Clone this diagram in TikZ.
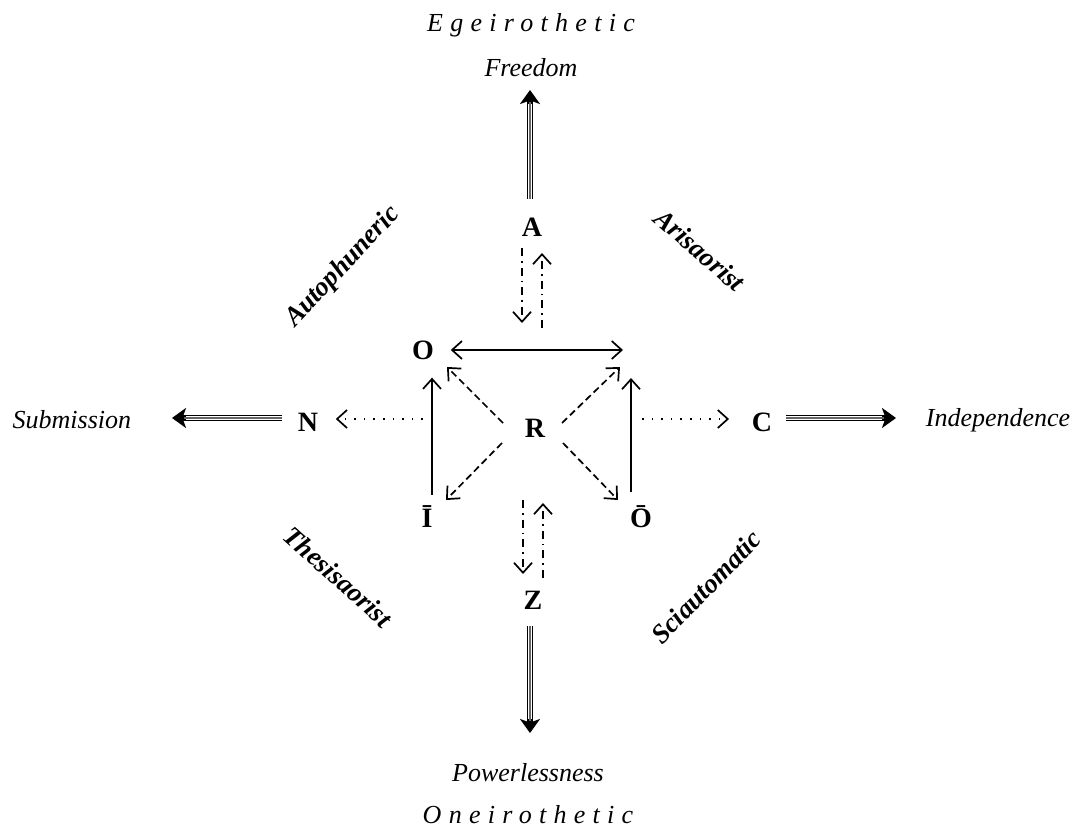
\documentclass[tikz,border=0pt]{standalone}
\usepackage{fontspec}
\setmainfont{Liberation Serif}
\usepackage{tikz}
\usetikzlibrary{arrows.meta,positioning}

\begin{document}
\begin{tikzpicture}[
        x=0.5pt, y=-0.5pt,
        >={Straight Barb[length=5pt,width=9pt]},
        every path/.style={line width=0.85pt},
        letter/.style={font=\fontsize{14}{16}\selectfont\bfseries, inner sep=0pt},
        word/.style={font=\fontsize{13}{15}\selectfont\itshape, inner sep=0pt},
        spaced/.style={font=\fontsize{13}{15}\selectfont\itshape\addfontfeature{LetterSpace=28}, inner sep=0pt},
        corner/.style={font=\fontsize{13.5}{15}\selectfont\bfseries\itshape, inner sep=0pt},
        dsh/.style={->, dash pattern=on 3.5pt off 2pt},
        dot/.style={->, dash pattern=on 0.8pt off 4pt},
        dashdot/.style={->, dash pattern=on 4pt off 2.5pt on 0.8pt off 2.5pt},
        tri/.style={line width=2.6pt, -{Stealth[length=7pt,width=10pt,inset=1.8pt]}, shorten >=#1,
            postaction={draw=white, line width=1.6pt, -, shorten >=#1+7pt},
            postaction={draw=black!60, line width=0.6pt, -, shorten >=#1+6pt}},
        tri/.default=0pt
    ]
  \useasboundingbox (0,0) rectangle (1076,828);

  % Nodes
  \node[letter] (R) at (535,428) {R};
  \node[letter] (O) at (423,350) {O};
  \node[letter] (Ibar) at (427,517) {Ī};
  \node[letter] (Obar) at (641,517) {Ō};
  \node[letter] (A) at (532,227) {A};
  \node[letter] (Z) at (533,600) {Z};
  \node[letter] (N) at (308,422) {N};
  \node[letter] (C) at (762,422) {C};
  \coordinate (tr) at (631,350);
  \coordinate (mt) at (532,350);
  \coordinate (mb) at (533,517);
  \coordinate (ml) at (432,419);
  \coordinate (mr) at (631,419);

  \node[word] (free) at (531,68) {Freedom};
  \node[spaced, above=10pt of free] (egei) {Egeirothetic};
  \node[word] (power) at (528,773) {Powerlessness};
  \node[spaced, below=11pt of power] (oneiro) {Oneirothetic};
  \node[word, anchor=east] (sub) at (132,420) {Submission};
  \node[word, anchor=west] (ind) at (925,420) {Independence};

  \node[corner, rotate=47] (auto) at (343,267) {Autophuneric};
  \node[corner, rotate=-41] (aris) at (700,250) {Arisaorist};
  \node[corner, rotate=-42] (thes) at (338,577) {Thesisaorist};
  \node[corner, rotate=46] (scia) at (706,587) {Sciautomatic};

  % Square
  \draw[<->, shorten <=8pt, shorten >=4pt] (O) -- (tr);
  \draw[->, shorten <=5.3pt, shorten >=8.7pt] ([xshift=2.5pt]Ibar.north) -- ([xshift=2.5pt]Ibar.north |- O.south);
  \draw[->, shorten <=6.3pt, shorten >=14pt] (tr |- Obar.north) -- (tr);

  % From R
  \draw[dsh] ([shift={(-32,-5)}]R.center) -- ([shift={(24,17)}]O.center);
  \draw[dsh] ([shift={(27,-5)}]R.center) -- ([shift={(-11,17)}]tr);
  \draw[dsh] ([shift={(-33,15)}]R.center) -- ([shift={(19,-17)}]Ibar.center);
  \draw[dsh] ([shift={(28,15)}]R.center) -- ([shift={(-23,-17)}]Obar.center);

  % Up and down
  \draw[dashdot] ([shift={(-10,21)}]A.center) -- ([shift={(-10,-27)}]mt);
  \draw[dashdot] ([shift={(10,-22)}]mt) -- ([shift={(10,26)}]A.center);
  \draw[dashdot] ([shift={(-10,-17)}]mb) -- ([shift={(-10,-26)}]Z.center);
  \draw[dashdot] ([shift={(10,-22)}]Z.center) -- ([shift={(10,-14)}]mb);

  % Sides
  \draw[dot, shorten <=4.5pt, shorten >=8.4pt] (ml) -- (ml -| N.east);
  \draw[dot, shorten <=5.5pt, shorten >=11pt] (mr) -- (mr -| C.west);

  % Outer arrows
  \draw[tri=6pt, shorten <=9pt] ([xshift=-1pt]A.north) -- ([xshift=-1pt]A.north |- free.south);
  \draw[tri=15pt, shorten <=8pt] ([xshift=-1.5pt]Z.south) -- ([xshift=-1.5pt]Z.south |- power.north);
  \draw[tri=20pt, shorten <=7.5pt] ([yshift=2pt]N.west) -- ([yshift=2pt]N.west -| sub.east);
  \draw[tri=14.5pt, shorten <=6.5pt] ([yshift=2pt]C.east) -- ([yshift=2pt]C.east -| ind.west);
\end{tikzpicture}
\end{document}
